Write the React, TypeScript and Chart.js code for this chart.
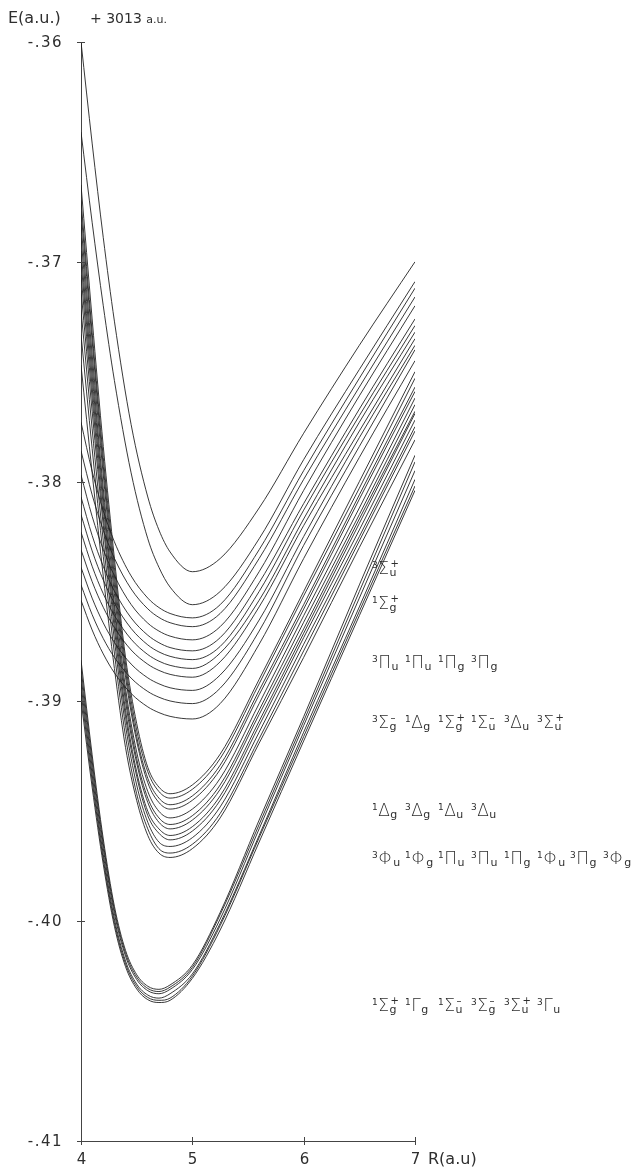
import React, { useEffect, useRef } from 'react';
import { Chart, registerables } from 'chart.js';

Chart.register(...registerables);

// Internuclear distance grids R (a.u.)
const R_GRID = [4.0, 4.1, 4.2, 4.3, 4.45, 4.6, 4.7, 4.8, 5.0, 5.25, 5.6, 6.0, 6.5, 7.0];
const R_GRID_FINE = [4.0, 4.1, 4.2, 4.3, 4.4, 4.5, 4.6, 4.7, 4.8, 5.0, 5.25, 5.6, 6.0, 6.5, 7.0];

// Energies E (a.u., + 3013 a.u.) — on R_GRID
const E_3SIGMA_U_PLUS = [-0.3600, -0.3646, -0.3689, -0.3727, -0.3774, -0.3807, -0.3822, -0.3832, -0.3841, -0.3835, -0.3812, -0.3778, -0.3738, -0.3700];
const E_1SIGMA_G_PLUS = [-0.3641, -0.3682, -0.3720, -0.3754, -0.3796, -0.3826, -0.3839, -0.3848, -0.3856, -0.3850, -0.3826, -0.3790, -0.3749, -0.3709];

// Pi group (R_GRID)
const E_PI_1 = [-0.37730, -0.37953, -0.38132, -0.38274, -0.38429, -0.38530, -0.38573, -0.38600, -0.38620, -0.3856, -0.3831, -0.3795, -0.3753, -0.3712];
const E_PI_2 = [-0.37860, -0.38060, -0.38221, -0.38349, -0.38488, -0.38579, -0.38618, -0.38642, -0.38660, -0.3860, -0.3835, -0.3799, -0.3757, -0.3716];
const E_PI_3 = [-0.37970, -0.38158, -0.38309, -0.38428, -0.38559, -0.38644, -0.38680, -0.38703, -0.38720, -0.3866, -0.3841, -0.3804, -0.3761, -0.3720];
const E_PI_4 = [-0.38070, -0.38245, -0.38386, -0.38498, -0.38620, -0.38699, -0.38733, -0.38755, -0.38770, -0.3871, -0.3846, -0.3810, -0.3767, -0.3726];

// Sigma / Delta group (R_GRID)
const E_SD_1 = [-0.38150, -0.38315, -0.38448, -0.38553, -0.38668, -0.38743, -0.38775, -0.38795, -0.38810, -0.3875, -0.3850, -0.3813, -0.3770, -0.3729];
const E_SD_2 = [-0.38230, -0.38385, -0.38510, -0.38609, -0.38717, -0.38787, -0.38817, -0.38836, -0.38850, -0.3878, -0.3854, -0.3817, -0.3773, -0.3732];
const E_SD_3 = [-0.38310, -0.38455, -0.38572, -0.38664, -0.38766, -0.38831, -0.38859, -0.38877, -0.38890, -0.3882, -0.3857, -0.3820, -0.3777, -0.3735];
const E_SD_4 = [-0.38390, -0.38530, -0.38643, -0.38732, -0.38830, -0.38893, -0.38920, -0.38938, -0.38950, -0.3888, -0.3863, -0.3825, -0.3780, -0.3738];
const E_SD_5 = [-0.38470, -0.38605, -0.38714, -0.38800, -0.38894, -0.38955, -0.38981, -0.38998, -0.39010, -0.3894, -0.3868, -0.3829, -0.3784, -0.3740];
const E_SD_6 = [-0.38540, -0.38675, -0.38784, -0.38870, -0.38964, -0.39025, -0.39051, -0.39068, -0.39080, -0.3901, -0.3874, -0.3835, -0.3789, -0.3745];

// Delta group (R_GRID_FINE)
const E_DELTA_1 = [-0.3665, -0.3726, -0.3784, -0.3835, -0.3880, -0.3910, -0.3930, -0.3939, -0.3942, -0.3938, -0.3924, -0.3890, -0.3850, -0.3800, -0.3750];
const E_DELTA_2 = [-0.3672, -0.3732, -0.3789, -0.3839, -0.3883, -0.3913, -0.3932, -0.3941, -0.3944, -0.3940, -0.3926, -0.3892, -0.3852, -0.3803, -0.3753];
const E_DELTA_3 = [-0.3677, -0.3736, -0.3793, -0.3843, -0.3886, -0.3916, -0.3935, -0.3944, -0.3947, -0.3943, -0.3929, -0.3895, -0.3856, -0.3806, -0.3757];
const E_DELTA_4 = [-0.3683, -0.3742, -0.3797, -0.3847, -0.3889, -0.3918, -0.3937, -0.3946, -0.3949, -0.3945, -0.3931, -0.3897, -0.3858, -0.3808, -0.3759];

// Phi / Pi group (R_GRID_FINE)
const E_PHI_1 = [-0.3689, -0.3747, -0.3803, -0.3851, -0.3894, -0.3923, -0.3941, -0.3950, -0.3953, -0.3949, -0.3935, -0.3901, -0.3861, -0.3812, -0.3762];
const E_PHI_2 = [-0.3695, -0.3752, -0.3807, -0.3856, -0.3897, -0.3926, -0.3944, -0.3953, -0.3956, -0.3952, -0.3938, -0.3904, -0.3864, -0.3815, -0.3765];
const E_PHI_3 = [-0.3700, -0.3757, -0.3811, -0.3859, -0.3900, -0.3928, -0.3946, -0.3955, -0.3958, -0.3954, -0.3940, -0.3906, -0.3867, -0.3817, -0.3768];
const E_PHI_4 = [-0.3706, -0.3762, -0.3816, -0.3863, -0.3904, -0.3932, -0.3950, -0.3958, -0.3961, -0.3957, -0.3943, -0.3909, -0.3869, -0.3819, -0.3769];
const E_PHI_5 = [-0.3713, -0.3768, -0.3820, -0.3867, -0.3907, -0.3934, -0.3952, -0.3960, -0.3963, -0.3959, -0.3945, -0.3911, -0.3871, -0.3822, -0.3772];
const E_PHI_6 = [-0.3722, -0.3776, -0.3827, -0.3872, -0.3911, -0.3938, -0.3955, -0.3964, -0.3966, -0.3962, -0.3948, -0.3914, -0.3874, -0.3825, -0.3775];
const E_PHI_7 = [-0.3733, -0.3785, -0.3834, -0.3878, -0.3916, -0.3942, -0.3958, -0.3967, -0.3969, -0.3965, -0.3951, -0.3917, -0.3877, -0.3827, -0.3777];
const E_PHI_8 = [-0.3747, -0.3796, -0.3843, -0.3885, -0.3921, -0.3945, -0.3961, -0.3969, -0.3971, -0.3967, -0.3953, -0.3919, -0.3880, -0.3830, -0.3781];

// Lowest group (R_GRID_FINE)
const E_LOW_1 = [-0.38812, -0.39243, -0.39626, -0.39932, -0.40133, -0.40243, -0.40296, -0.4031, -0.4029, -0.4020, -0.3996, -0.3954, -0.3907, -0.3847, -0.3788];
const E_LOW_2 = [-0.38848, -0.39271, -0.39647, -0.39948, -0.40146, -0.40254, -0.40306, -0.4032, -0.4030, -0.4021, -0.3997, -0.3956, -0.3909, -0.3850, -0.3791];
const E_LOW_3 = [-0.38884, -0.39300, -0.39669, -0.39965, -0.40159, -0.40265, -0.40316, -0.4033, -0.4031, -0.4022, -0.3999, -0.3958, -0.3911, -0.3853, -0.3795];
const E_LOW_4 = [-0.38921, -0.39332, -0.39697, -0.39989, -0.40181, -0.40286, -0.40336, -0.4035, -0.4033, -0.4024, -0.4001, -0.3961, -0.3914, -0.3857, -0.3799];
const E_LOW_5 = [-0.38957, -0.39360, -0.39719, -0.40006, -0.40194, -0.40297, -0.40347, -0.4036, -0.4035, -0.4025, -0.4002, -0.3962, -0.3916, -0.3859, -0.3802];
const E_LOW_6 = [-0.38994, -0.39390, -0.39741, -0.40023, -0.40207, -0.40308, -0.40357, -0.4037, -0.4036, -0.4026, -0.4004, -0.3964, -0.3918, -0.3861, -0.3804];

const CURVES_COARSE = [
  E_3SIGMA_U_PLUS, E_1SIGMA_G_PLUS,
  E_PI_1, E_PI_2, E_PI_3, E_PI_4,
  E_SD_1, E_SD_2, E_SD_3, E_SD_4, E_SD_5, E_SD_6,
];
const CURVES_FINE = [
  E_DELTA_1, E_DELTA_2, E_DELTA_3, E_DELTA_4,
  E_PHI_1, E_PHI_2, E_PHI_3, E_PHI_4, E_PHI_5, E_PHI_6, E_PHI_7, E_PHI_8,
  E_LOW_1, E_LOW_2, E_LOW_3, E_LOW_4, E_LOW_5, E_LOW_6,
];

// Axis ticks
const Y_TICK_VALUES = [-0.36, -0.37, -0.38, -0.39, -0.40, -0.41];
const Y_TICK_LABELS = ['-.36', '-.37', '-.38', '-.39', '-.40', '-.41'];
const X_TICK_VALUES = [4, 5, 6, 7];
const X_TICK_LABELS = ['4', '5', '6', '7'];

// State labels: [multiplicity, letter, parity, reflection]
type Term = [string, string, string, string];
const ROW_3SU: Term[] = [['3', 'Σ', 'u', '+']];
const ROW_1SG: Term[] = [['1', 'Σ', 'g', '+']];
const ROW_PI: Term[] = [['3', 'Π', 'u', ''], ['1', 'Π', 'u', ''], ['1', 'Π', 'g', ''], ['3', 'Π', 'g', '']];
const ROW_SD: Term[] = [['3', 'Σ', 'g', '-'], ['1', 'Δ', 'g', ''], ['1', 'Σ', 'g', '+'], ['1', 'Σ', 'u', '-'], ['3', 'Δ', 'u', ''], ['3', 'Σ', 'u', '+']];
const ROW_DELTA: Term[] = [['1', 'Δ', 'g', ''], ['3', 'Δ', 'g', ''], ['1', 'Δ', 'u', ''], ['3', 'Δ', 'u', '']];
const ROW_PHI: Term[] = [['3', 'Φ', 'u', ''], ['1', 'Φ', 'g', ''], ['1', 'Π', 'u', ''], ['3', 'Π', 'u', ''], ['1', 'Π', 'g', ''], ['1', 'Φ', 'u', ''], ['3', 'Π', 'g', ''], ['3', 'Φ', 'g', '']];
const ROW_LOW: Term[] = [['1', 'Σ', 'g', '+'], ['1', 'Γ', 'g', ''], ['1', 'Σ', 'u', '-'], ['3', 'Σ', 'g', '-'], ['3', 'Σ', 'u', '+'], ['3', 'Γ', 'u', '']];
// energy level at which each label row sits
const ROW_LEVELS = [-0.3839, -0.3855, -0.3882, -0.3909, -0.3949, -0.3971, -0.4038];
const ROWS = [ROW_3SU, ROW_1SG, ROW_PI, ROW_SD, ROW_DELTA, ROW_PHI, ROW_LOW];

const INK = '#2e2e2e';
const LINE = 'rgba(30,30,30,0.88)';
const FONT = '"DejaVu Sans", "Liberation Sans", sans-serif';

const decorPlugin = {
  id: 'decor',
  afterDraw(chart: any) {
    const { ctx, scales } = chart;
    const x = scales.x;
    const y = scales.y;
    const axisX = x.getPixelForValue(4);
    const axisY = y.getPixelForValue(-0.41);
    ctx.save();
    ctx.strokeStyle = '#444';
    ctx.lineWidth = 1;
    ctx.fillStyle = INK;
    // y ticks (crosses) and labels
    ctx.font = `15px ${FONT}`;
    ctx.textAlign = 'right';
    ctx.textBaseline = 'middle';
    (ctx as any).letterSpacing = '1.5px';
    Y_TICK_VALUES.forEach((v, i) => {
      const py = Math.round(y.getPixelForValue(v)) + 0.5;
      ctx.beginPath();
      ctx.moveTo(axisX - 4, py);
      ctx.lineTo(axisX + 4, py);
      ctx.stroke();
      ctx.fillText(Y_TICK_LABELS[i], axisX - 18, py + 1);
    });
    // x ticks and labels
    ctx.textAlign = 'center';
    ctx.textBaseline = 'top';
    (ctx as any).letterSpacing = '0px';
    X_TICK_VALUES.forEach((v, i) => {
      const px = Math.round(x.getPixelForValue(v)) + 0.5;
      ctx.beginPath();
      ctx.moveTo(px, axisY - 4);
      ctx.lineTo(px, axisY + 4);
      ctx.stroke();
      ctx.fillText(X_TICK_LABELS[i], px, axisY + 12);
    });
    ctx.textAlign = 'left';
    ctx.font = `16px ${FONT}`;
    ctx.fillText('R(a.u)', x.getPixelForValue(7) + 13, axisY + 11);
    // header
    ctx.textBaseline = 'alphabetic';
    ctx.font = `16px ${FONT}`;
    ctx.fillText('E(a.u.)', 8, 23);
    ctx.font = `14px ${FONT}`;
    ctx.fillText('+ 3013', 90, 23);
    const w = ctx.measureText('+ 3013 ').width;
    ctx.font = `11px ${FONT}`;
    ctx.fillText('a.u.', 90 + w, 23);

    // state labels
    const startX = x.getPixelForValue(7) - 43;
    ROWS.forEach((row, ri) => {
      const yc = y.getPixelForValue(ROW_LEVELS[ri]);
      const yb = yc + 6.5;
      row.forEach((t, ti) => {
        const [m, L, p, s] = t;
        let cx = startX + ti * 33;
        ctx.font = `9px ${FONT}`;
        ctx.fillText(m, cx, yb - 6);
        cx += ctx.measureText(m).width + 0.5;
        ctx.font = `200 17px ${FONT}`;
        ctx.fillText(L, cx, yb);
        cx += ctx.measureText(L).width + 0.5;
        ctx.font = `11px ${FONT}`;
        ctx.fillText(p, cx, yb + 2);
        if (s) {
          ctx.font = `10px ${FONT}`;
          ctx.fillText(s === '-' ? '–' : '+', cx + 1, yb - 7);
        }
      });
    });
    ctx.restore();
  },
};

function toDataset(grid: number[], vals: number[], i: number) {
  return {
    label: `state ${i + 1}`,
    data: grid.map((r, k) => ({ x: r, y: vals[k] })),
    borderColor: LINE,
    borderWidth: 1,
    pointRadius: 0,
    fill: false,
    cubicInterpolationMode: 'monotone' as const,
  };
}

export default function App() {
  const ref = useRef<HTMLCanvasElement | null>(null);
  useEffect(() => {
    if (!ref.current) return;
    const datasets = [
      ...CURVES_COARSE.map((v, i) => toDataset(R_GRID, v, i)),
      ...CURVES_FINE.map((v, i) => toDataset(R_GRID_FINE, v, i + CURVES_COARSE.length)),
    ];
    const chart = new Chart(ref.current, {
      type: 'line',
      data: { datasets },
      options: {
        animation: false,
        responsive: false,
        maintainAspectRatio: false,
        layout: { padding: { top: 42, right: 225, left: 0, bottom: 0 } },
        plugins: { legend: { display: false }, tooltip: { enabled: false } },
        scales: {
          x: {
            type: 'linear',
            min: 4,
            max: 7,
            ticks: { display: false },
            grid: { display: false },
            border: { display: true, color: '#444', width: 1 },
            afterFit: (s: any) => { s.height = 28; },
          },
          y: {
            type: 'linear',
            min: -0.41,
            max: -0.36,
            ticks: { display: false },
            grid: { display: false },
            border: { display: true, color: '#444', width: 1 },
            afterFit: (s: any) => { s.width = 81; },
          },
        },
      },
      plugins: [decorPlugin],
    });
    return () => chart.destroy();
  }, []);
  return (
    <div style={{ position: 'absolute', left: 0, top: 0, width: 640, height: 1169, background: '#ffffff' }}>
      <canvas ref={ref} width={640} height={1169} style={{ display: 'block', width: 640, height: 1169 }} />
    </div>
  );
}
